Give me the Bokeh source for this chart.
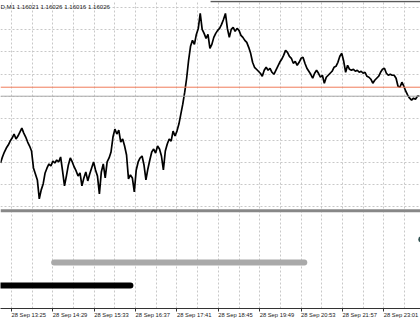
from bokeh.plotting import figure
from bokeh.models import Range1d, FixedTicker, Span, Label
from bokeh.embed import file_html
from bokeh.resources import INLINE

# ---- data -------------------------------------------------------------
caption = "D,M1 1.16021 1.16026 1.16016 1.16026"
start_minute = 13 * 60 + 8        # 28 Sep 13:08, first sampled bar
step_minutes = 3
close = [
    1.15892, 1.15904, 1.15914, 1.15922, 1.15928, 1.15936, 1.15942, 1.15950, 1.15940, 1.15946,
    1.15954, 1.15962, 1.15952, 1.15944, 1.15934, 1.15926, 1.15916, 1.15882, 1.15870, 1.15858,
    1.15820, 1.15838, 1.15850, 1.15872, 1.15882, 1.15890, 1.15886, 1.15896, 1.15892, 1.15898,
    1.15894, 1.15904, 1.15876, 1.15846, 1.15866, 1.15888, 1.15902, 1.15894, 1.15884, 1.15876,
    1.15866, 1.15872, 1.15846, 1.15862, 1.15874, 1.15856, 1.15870, 1.15882, 1.15894, 1.15878,
    1.15866, 1.15830, 1.15874, 1.15890, 1.15862, 1.15894, 1.15902, 1.15914, 1.15944, 1.15960,
    1.15950, 1.15958, 1.15934, 1.15940, 1.15926, 1.15908, 1.15860, 1.15868, 1.15862, 1.15834,
    1.15878, 1.15894, 1.15902, 1.15906, 1.15888, 1.15858, 1.15880, 1.15898, 1.15914, 1.15920,
    1.15912, 1.15926, 1.15920, 1.15906, 1.15878, 1.15916, 1.15930, 1.15940, 1.15936, 1.15956,
    1.15946, 1.15956, 1.15970, 1.15990, 1.16010, 1.16034, 1.16062, 1.16098, 1.16126, 1.16138,
    1.16130, 1.16150, 1.16162, 1.16192, 1.16160, 1.16152, 1.16142, 1.16150, 1.16122, 1.16130,
    1.16144, 1.16152, 1.16158, 1.16162, 1.16170, 1.16180, 1.16192, 1.16162, 1.16144, 1.16160,
    1.16164, 1.16156, 1.16162, 1.16158, 1.16148, 1.16144, 1.16138, 1.16134, 1.16124, 1.16112,
    1.16094, 1.16084, 1.16080, 1.16076, 1.16072, 1.16066, 1.16078, 1.16084, 1.16078, 1.16082,
    1.16074, 1.16070, 1.16078, 1.16086, 1.16094, 1.16100, 1.16108, 1.16118, 1.16114, 1.16106,
    1.16102, 1.16092, 1.16096, 1.16088, 1.16094, 1.16102, 1.16104, 1.16092, 1.16082, 1.16076,
    1.16070, 1.16062, 1.16072, 1.16078, 1.16072, 1.16064, 1.16068, 1.16052, 1.16064, 1.16068,
    1.16072, 1.16076, 1.16084, 1.16086, 1.16094, 1.16106, 1.16112, 1.16096, 1.16074, 1.16088,
    1.16080, 1.16078, 1.16080, 1.16076, 1.16078, 1.16074, 1.16076, 1.16072, 1.16074, 1.16066,
    1.16064, 1.16060, 1.16052, 1.16058, 1.16062, 1.16066, 1.16074, 1.16080, 1.16082, 1.16072,
    1.16068, 1.16070, 1.16068, 1.16068, 1.16062, 1.16046, 1.16044, 1.16054, 1.16046, 1.16036,
    1.16028, 1.16022, 1.16018, 1.16022, 1.16020, 1.16026, 1.16026,
]
times = [start_minute + step_minutes * i for i in range(len(close))]

bid_price = 1.16026
ask_price = 1.16044
level_line_price = 1.16216
level_line_start = 1113
level_line_end = 1500

grid_prices = [1.15804, 1.15848, 1.15893, 1.15937, 1.15982,
               1.16026, 1.16070, 1.16115, 1.16159, 1.16204]
grid_minutes = [805 + 32 * k for k in range(20)]
tick_minutes = [805, 869, 933, 997, 1061, 1125, 1189, 1253, 1317, 1381]
tick_labels = ["28 Sep 13:25", "28 Sep 14:29", "28 Sep 15:33", "28 Sep 16:37",
               "28 Sep 17:41", "28 Sep 18:45", "28 Sep 19:49", "28 Sep 20:53",
               "28 Sep 21:57", "28 Sep 23:01"]

session_levels = [1, 2, 3]
session_start = [720, 871, 1439]
session_end = [989, 1258, 1500]
session_colors = ["#000000", "#a9a9a9", "#2f4f4f"]

# ---- figure -----------------------------------------------------------
FONT = "Liberation Sans"
p = figure(width=420, height=323, output_backend="svg", toolbar_location=None,
           x_range=Range1d(788, 1437.8), y_range=Range1d(1.15600, 1.16218),
           y_axis_location=None, min_border_left=0, min_border_right=0,
           min_border_top=0, min_border_bottom=14)
p.outline_line_color = None
p.background_fill_color = "white"
p.border_fill_color = "white"
p.extra_y_ranges = {"ind": Range1d(0, 13.377)}

p.xgrid.ticker = FixedTicker(ticks=grid_minutes)
p.ygrid.ticker = FixedTicker(ticks=grid_prices)
for g in (p.xgrid, p.ygrid):
    g.grid_line_color = "#c8c8c8"
    g.grid_line_dash = "2 2"
    g.grid_line_width = 1

ax = p.xaxis[0]
ax.ticker = FixedTicker(ticks=tick_minutes)
ax.major_label_overrides = dict(zip(tick_minutes, tick_labels))
ax.minor_tick_line_color = None
ax.major_tick_in = 0
ax.major_tick_out = 3
ax.major_tick_line_color = "#333333"
ax.axis_line_color = "#333333"
# a (practically) zero clockwise angle makes the labels start at their tick
ax.major_label_orientation = -0.0001
ax.major_label_standoff = 3
ax.major_label_text_font = FONT
ax.major_label_text_font_size = "5.8px"
ax.major_label_text_color = "#1a1a1a"

# horizontal price levels
p.add_layout(Span(location=bid_price, dimension="width", line_color="#aaaaaa", line_width=1))
p.add_layout(Span(location=ask_price, dimension="width", line_color="#f07c5a", line_width=1))
p.segment(x0=[level_line_start], y0=[level_line_price], x1=[level_line_end], y1=[level_line_price],
          line_color="#5a5a5a", line_width=1.3)

# price line
p.line(times, close, line_color="black", line_width=1.7)

# panel separator
p.add_layout(Span(location=1.15796, dimension="width", line_color="#888888", line_width=3))

# lower indicator panel
p.segment(x0=session_start, y0=session_levels, x1=session_end, y1=session_levels,
          line_color=session_colors, line_width=6, line_cap="round", y_range_name="ind")

p.add_layout(Label(x=start_minute, y=1.16206, text=caption, text_align="left",
                   text_baseline="middle", text_font=FONT,
                   text_font_size="6.1px", text_color="#1a1a1a"))

open("out.html", "w").write(file_html(p, INLINE))
